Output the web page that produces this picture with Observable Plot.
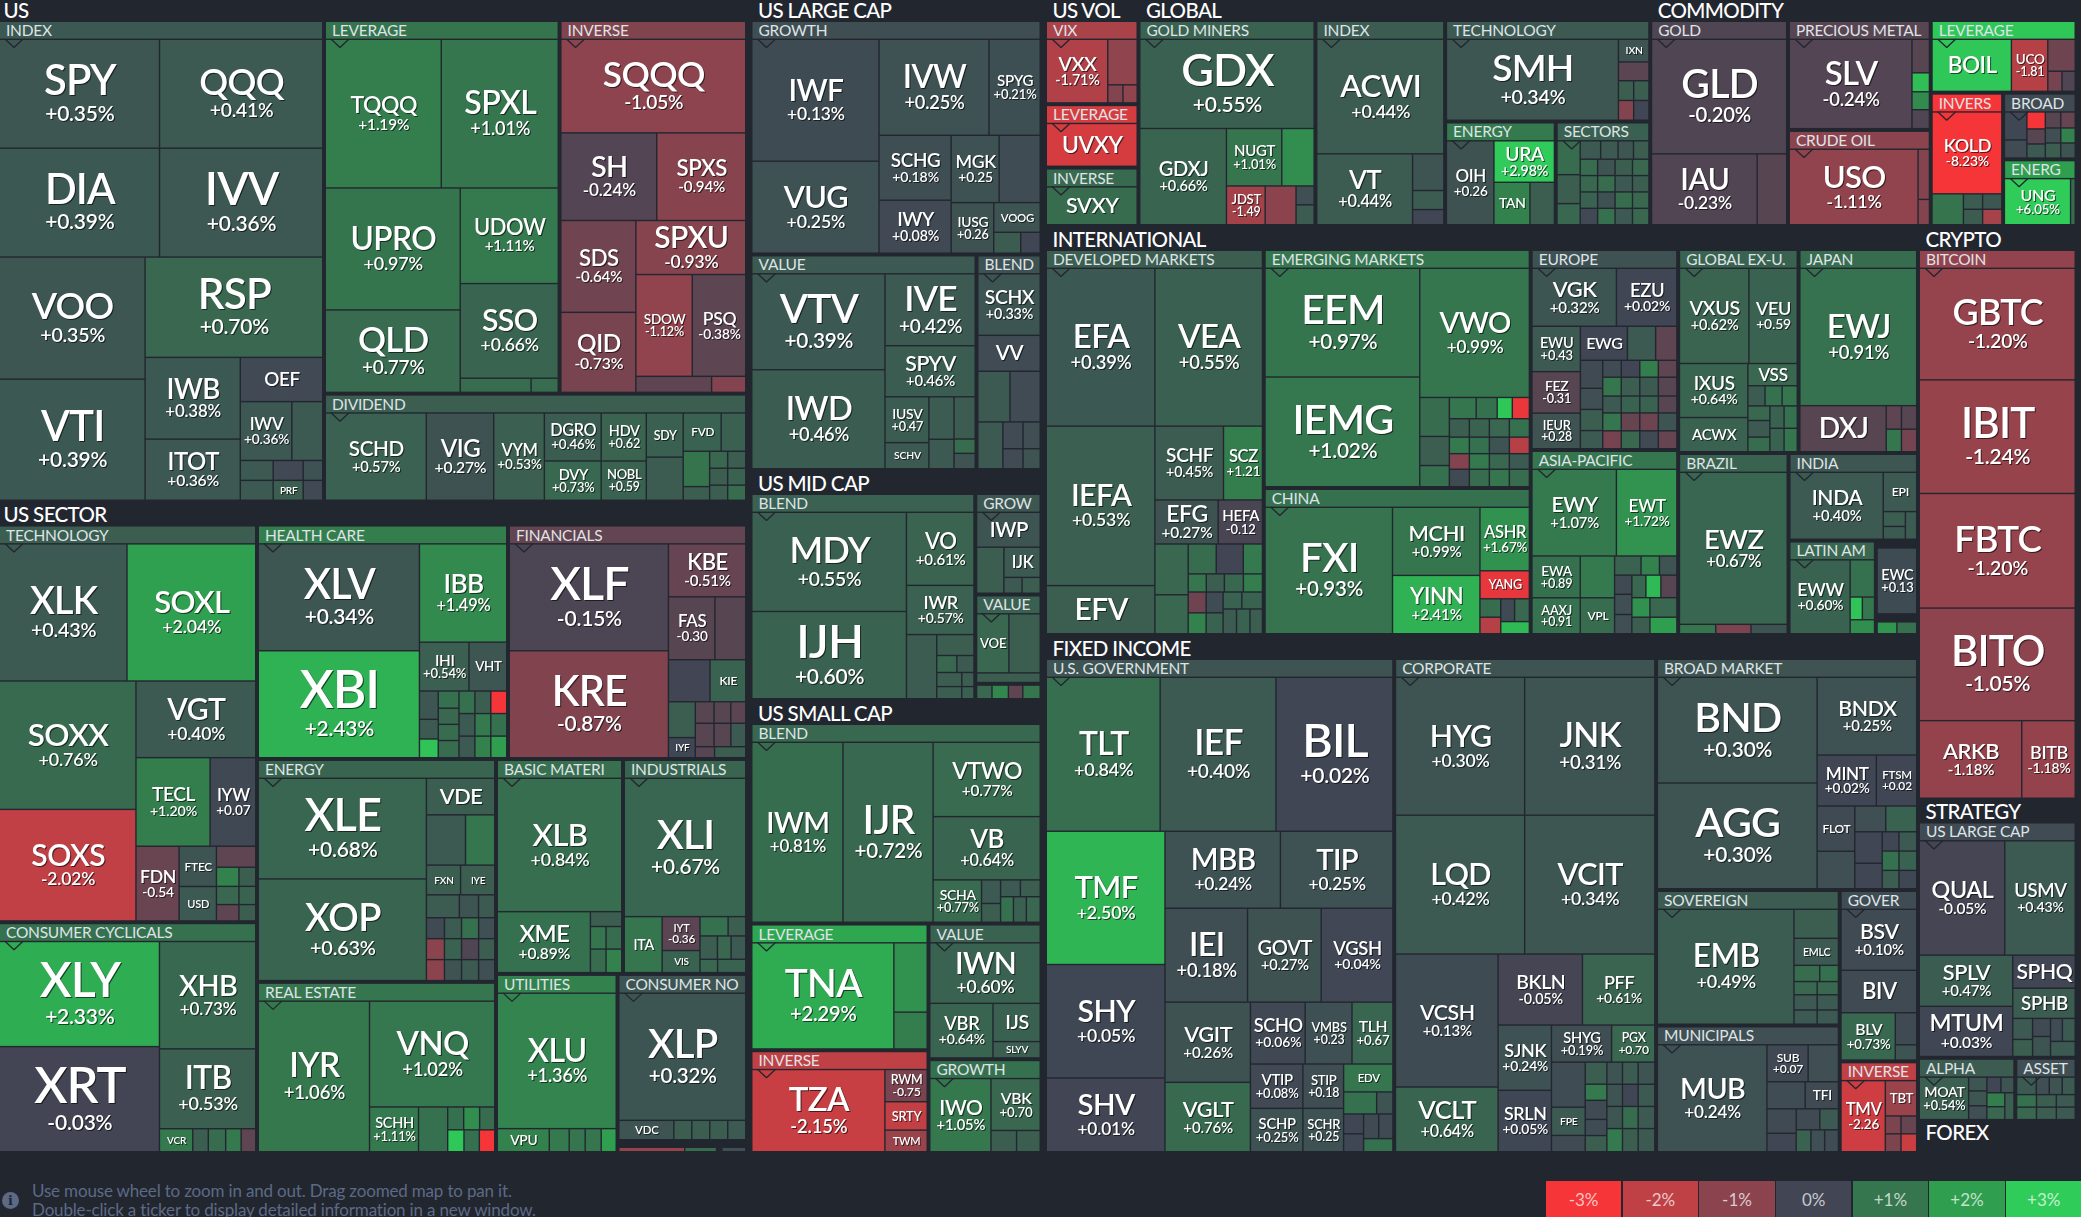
<!DOCTYPE html>
<html><head><meta charset="utf-8">
<script src="https://cdn.jsdelivr.net/npm/d3@7"></script>
<script src="https://cdn.jsdelivr.net/npm/@observablehq/plot@0.6"></script>
<style>
html,body{margin:0;padding:0;background:#22262f;overflow:hidden;width:2081px;height:1217px}
svg{display:block}
.tick text,.pct text{filter:drop-shadow(1px 1.5px 0 rgba(0,0,0,.6))}
.tick text{letter-spacing:-.02em;font-weight:600}
.pct text{letter-spacing:-.01em;font-weight:600}
.sub text{letter-spacing:-.015em}
.top text{letter-spacing:-.03em;font-weight:500}
#foot{position:relative;height:66px;width:2081px;overflow:hidden;font-family:Lato,sans-serif}
#msg{position:absolute;left:32px;top:30px;font-size:17px;line-height:19px;color:#5d6a86;letter-spacing:-.01em;white-space:nowrap}
#ico{position:absolute;left:2px;top:41px;width:17px;height:17px;border-radius:50%;background:#5d6a86;color:#22262f;font:bold 13px/17px "DejaVu Serif",serif;text-align:center}
#leg{position:absolute;left:1546px;top:30px;display:flex;gap:1.5px}
#leg div{width:75.2px;height:36px;color:rgba(255,255,255,.72);font-size:17px;line-height:38px;text-align:center}
</style></head><body>
<div id="map"></div>
<div id="foot"><div id="ico">i</div><div id="msg">Use mouse wheel to zoom in and out. Drag zoomed map to pan it.<br>Double-click a ticker to display detailed information in a new window.</div><div id="leg"></div></div>
<script>
// Node forms: [share,'TICKER','+0.35%'] labelled leaf, [share,'TICKER',0.1] ticker only, [share,'',0.4] unlabelled,
// [share,'h'|'v',[...]] split among siblings
const legendValues=[-3,-2,-1,0,1,2,3];
const legendLabels=['-3%','-2%','-1%','0%','+1%','+2%','+3%'];
const legendColors=['#f63538','#bf4045','#8b444e','#414554','#35764e','#2f9e4f','#30cc5a'];

const usIndex=[
 [108,'h',[[160,'SPY','+0.35%'],[163,'QQQ','+0.41%']]],
 [108,'h',[[160,'DIA','+0.39%'],[163,'IVV','+0.36%']]],
 [243,'h',[
  [145,'v',[[122,'VOO','+0.35%'],[121,'VTI','+0.39%']]],
  [177,'v',[[100,'RSP','+0.70%'],[143,'h',[
   [95,'v',[[82,'IWB','+0.38%'],[61,'ITOT','+0.36%']]],
   [82,'v',[[44,'OEF',.08],[59,'h',[[51,'IWV','+0.36%'],[30,'',.4]]],
    [19,'h',[[33,'',.4],[30,'',.08],[19,'',.25]]],[19,'h',[[33,'',.4],[30,'PRF',.5],[19,'',.08]]]]]
  ]]]]
 ]]];
const usLeverage=[
 [148,'h',[[115,'TQQQ','+1.19%'],[116,'SPXL','+1.01%']]],
 [204,'h',[
  [134,'v',[[122,'UPRO','+0.97%'],[82,'QLD','+0.77%']]],
  [97,'v',[[96,'UDOW','+1.11%'],[95,'SSO','+0.66%'],[13,'h',[[70,'',.8],[26,'',.8]]]]]]]];
const usInverse=[
 [93,'h',[[183,'SQQQ','-1.05%']]],
 [87,'h',[[95,'SH','-0.24%'],[88,'SPXS','-0.94%']]],
 [172,'h',[
  [74,'v',[[92,'SDS','-0.64%'],[80,'QID','-0.73%']]],
  [109,'v',[[54,'SPXU','-0.93%'],[103,'h',[[56,'SDOW','-1.12%'],[53,'PSQ','-0.38%']]],[15,'h',[[75,'',-.4],[33,'',-.9]]]]]]]];
const usDividend=[
 [101,'SCHD','+0.57%'],[67,'VIG','+0.27%'],[50,'VYM','+0.53%'],
 [102,'v',[[48,'h',[[57,'DGRO','+0.46%'],[45,'HDV','+0.62']]],[39,'h',[[57,'DVY','+0.73%'],[45,'NOBL','+0.59']]]]],
 [36,'v',[[44,'SDY',.55],[43,'',.45]]],
 [62,'v',[[38,'h',[[38,'FVD',.6],[24,'',.55]]],[49,'h',[
  [26,'v',[[36,'',.95],[13,'',.5]]],
  [36,'v',[[17,'h',[[18,'',.7],[18,'',.5]]],[17,'h',[[18,'',.5],[18,'',.6]]],[15,'h',[[18,'',.5],[18,'',.8]]]]]]]]]];

const secTech=[
 [136,'h',[[127,'XLK','+0.43%'],[128,'SOXL','+2.04%']]],
 [239,'h',[
  [136,'v',[[128,'SOXX','+0.76%'],[111,'SOXS','-2.02%']]],
  [119,'v',[[76,'VGT','+0.40%'],[88,'h',[[74,'TECL','+1.20%'],[45,'IYW','+0.07']]],
   [74,'h',[[43,'FDN','-0.54'],[37,'v',[[40,'FTEC',.3],[34,'USD',.4]]],
    [39,'v',[[21,'',-.4],[19,'h',[[22,'',1.3],[16,'',.5]]],[18,'h',[[22,'',.7],[16,'',.6]]],[16,'h',[[22,'',-.4],[16,'',.5]]]]]]]]]]]];
const secCyc=[
 [159,'v',[[105,'XLY','+2.33%'],[105,'XRT','-0.03%']]],
 [95,'v',[[108,'XHB','+0.73%'],[80,'ITB','+0.53%'],[22,'h',[[34,'VCR',1.1],[15,'',.5],[17,'',.8],[15,'',1.1],[14,'',-.4]]]]]];
const secHealth=[
 [160,'v',[[106,'XLV','+0.34%'],[106,'XBI','+2.43%']]],
 [86,'v',[[98,'IBB','+1.49%'],[48,'h',[[49,'IHI','+0.54%'],[37,'VHT',.35]]],
  [66,'h',[
   [18,'v',[[28,'',.35],[19,'',.4],[18,'',2.8]]],
   [20,'v',[[16,'',.9],[15,'',.7],[15,'',.8],[16,'',.8]]],
   [15,'v',[[22,'',.9],[22,'',.4],[21,'',.4]]],
   [15,'v',[[22,'',.5],[22,'',1.1],[21,'',1.3]]],
   [15,'v',[[22,'',-3],[22,'',.9],[21,'',2]]]]]]]];
const secFin=[
 [158,'v',[[106,'XLF','-0.15%'],[106,'KRE','-0.87%']]],
 [76,'v',[[52,'KBE','-0.51%'],[62,'h',[[46,'FAS','-0.30'],[30,'',-.3]]],[41,'h',[[41,'',0],[35,'KIE',.6]]],
  [55,'h',[[26,'v',[[35,'',.5],[19,'IYF',.05]]],
   [50,'v',[[21,'h',[[18,'',-.3],[16,'',-.3],[14,'',-.35]]],[23,'h',[[18,'',-.3],[16,'',-.3],[14,'',.4]]],[10,'h',[[18,'',-.3],[30,'',.5]]]]]]]]]];
const secEnergy=[
 [167,'v',[[100,'XLE','+0.68%'],[101,'XOP','+0.63%']]],
 [67,'v',[[36,'VDE',.5],[50,'h',[[38,'',.4],[28,'',1.0]]],[29,'h',[[33,'FXN',.5],[33,'IYE',.5]]],
  [22,'h',[[32,'',.45],[18,'',.3],[15,'',.4]]],
  [20,'h',[[17,'',.1],[16,'',.45],[16,'',.9],[15,'',.2]]],
  [20,'h',[[17,'',-1],[16,'',.6],[16,'',-.2],[15,'',.5]]],
  [20,'h',[[17,'',-1],[16,'',.3],[16,'',.4],[15,'',.2]]]]]];
const secRealEstate=[
 [110,'IYR','+1.06%'],
 [124,'v',[[106,'VNQ','+1.02%'],[44,'h',[[48,'SCHH','+1.11%'],[28,'',.9],
  [46,'v',[[22,'h',[[16,'',.9],[16,'',1.6],[15,'',.8]]],[21,'h',[[16,'',2.9],[15,'',.9],[15,'',-3]]]]]]]]]];
const secBasic=[
 [133,'XLB','+0.84%'],
 [60,'h',[[92,'XME','+0.89%'],[30,'v',[[14,'',.5],[22,'h',[[15,'',1.0],[15,'',.8]]],[23,'h',[[15,'',.8],[15,'',1.3]]]]]]]];
const secIndustrials=[
 [138,'XLI','+0.67%'],
 [55,'h',[[37,'ITA',1.0],[37,'v',[[33,'IYT','-0.36'],[21,'VIS',.6]]],
  [45,'v',[[18,'h',[[28,'',.9],[17,'',.5]]],[22,'h',[[17,'',.5],[13,'',.7],[14,'',.4]]],[12,'h',[[17,'',.7],[28,'',.6]]]]]]]];
const secUtilities=[
 [136,'XLU','+1.36%'],
 [22,'h',[[52,'VPU',1.3],[19,'',1.1],[15,'',1.0],[15,'',1.0],[14,'',2.0]]]];
const secStaples=[
 [126,'XLP','+0.32%'],
 [18,'h',[[55,'VDC',.3],[17,'',.5],[17,'',.5],[17,'',.5],[17,'',.4]]]];
const secStaplesExtra=[[66,'',-1.2],[31,'',.8],[4,'',null],[23,'',.2]];

const lcGrowth=[
 [126,'v',[[121,'IWF','+0.13%'],[91,'VUG','+0.25%']]],
 [160,'v',[[95,'h',[[109,'IVW','+0.25%'],[50,'SPYG','+0.21%']]],
  [117,'h',[[71,'v',[[64,'SCHG','+0.18%'],[52,'IWY','+0.08%']]],
   [88,'v',[[67,'h',[[47,'MGK','+0.25'],[40,'',.15]]],[50,'h',[[42,'IUSG','+0.26'],[46,'v',[[29,'VOOG',.3],[20,'h',[[27,'',.45],[19,'',.02]]]]]]]]]]]]]];
const lcValue=[
 [132,'v',[[95,'VTV','+0.39%'],[98,'IWD','+0.46%']]],
 [89,'v',[[71,'IVE','+0.42%'],[50,'SPYV','+0.46%'],[71,'h',[
  [43,'v',[[45,'IUSV','+0.47'],[25,'SCHV',.4]]],
  [24,'v',[[41,'',.45],[28,'',.4]]],
  [20,'v',[[41,'',.45],[13,'',.8],[14,'',.3]]]]]]]];
const lcBlend=[
 [61,'SCHX','+0.33%'],[35,'VV',.12],
 [50,'h',[[31,'',.4],[29,'',.12]]],
 [46,'h',[[24,'',.4],[19,'v',[[26,'',.12],[19,'',.12]]],[16,'v',[[26,'',.2],[19,'',.3]]]]]];

const mcBlend=[
 [153,'v',[[98,'MDY','+0.55%'],[86,'IJH','+0.60%']]],
 [66,'v',[[72,'VO','+0.61%'],[48,'IWR','+0.57%'],[63,'h',[[29,'',.45],
  [36,'v',[[20,'',.5],[16,'h',[[19,'',.7],[16,'',.4]]],[13,'h',[[24,'',.5],[11,'',.5]]],[11,'h',[[24,'',.5],[11,'',.55]]]]]]]]]];
const mcGrow=[
 [33,'IWP',.3],
 [44,'h',[[26,'',.5],[35,'v',[[28,'IJK',.4],[14,'h',[[17,'',.4],[17,'',.5]]]]]]]];
const mcValue=[
 [56,'h',[[31,'VOE',.7],[30,'',.5]]],
 [8,'',.5]];
const mcExtra=[[14,'',.7],[15,'',1.4],[13,'',-.4],[16,'',1.0]];

const scBlend=[
 [90,'IWM','+0.81%'],[89,'IJR','+0.72%'],
 [106,'v',[[73,'VTWO','+0.77%'],[62,'VB','+0.64%'],[41,'h',[[48,'SCHA','+0.77%'],
  [18,'v',[[23,'',.4],[18,'',.5]]],
  [39,'v',[[16,'h',[[19,'',.4],[19,'',.5]]],[25,'h',[[12,'',.9],[12,'',.55],[13,'',.7]]]]]]]]]];
const scLeverage=[[141,'TNA','+2.29%'],[32,'v',[[69,'',1.7],[36,'',1.2]]]];
const scInverse=[[132,'TZA','-2.15%'],[41,'v',[[32,'RWM','-0.75'],[28,'SRTY',-2.05],[21,'TWM',-1.3]]]];
const scValue=[[60,'IWN','+0.60%'],[54,'h',[[62,'VBR','+0.64%'],[46,'v',[[37,'IJS',.55],[15,'SLYV',.5]]]]]];
const scGrowth=[[60,'IWO','+1.05%'],[48,'v',[[51,'VBK','+0.70'],[20,'h',[[25,'',.5],[23,'',.5]]]]]];

const volVix=[[60,'VXX','-1.71%'],[28,'v',[[45,'',-1.1],[17,'h',[[14,'',-.9],[13,'',-1.1]]]]]];
const volLeverage=[[89,'UVXY',-2.4]];
const volInverse=[[89,'SVXY',.8]];

const glMiners=[
 [88,'GDX','+0.55%'],
 [95,'h',[[85,'GDXJ','+0.66%'],[86,'v',[[57,'h',[[54,'NUGT','+1.01%'],[31,'',1.6]]],
  [38,'h',[[38,'JDST','-1.49'],[30,'',-1],[17,'v',[[18,'',.2],[19,'',.45]]]]]]]]]];
const glIndex=[
 [114,'ACWI','+0.44%'],
 [70,'h',[[95,'VT','+0.44%'],[30,'v',[[36,'',.3],[18,'',.45],[14,'',.03]]]]]];
const glTech=[[170,'SMH','+0.34%'],[29,'v',[[22,'IXN',.3],[18,'',-.35],[19,'h',[[14,'',.5],[14,'',.5]]],[19,'h',[[14,'',-.9],[14,'',.02]]]]]];
const glEnergy=[[46,'OIH','+0.26'],[59,'v',[[41,'URA','+2.98%'],[42,'h',[[36,'TAN',1.3],[24,'',.5]]]]]];
const glSectors=[
 [22,'v',[[33,'',.8],[28,'',.5],[20,'',.7]]],
 [68,'v',[
  [17,'h',[[19,'',.4],[16,'',.4],[14,'',.35],[14,'',.5]]],
  [15,'h',[[16,'',.8],[16,'',.3],[16,'',.5],[15,'',.7]]],
  [15,'h',[[16,'',.7],[16,'',.8],[16,'',.4],[15,'',.5]]],
  [15,'h',[[16,'',.6],[16,'',.25],[16,'',.8],[15,'',.7]]],
  [15,'h',[[16,'',.08],[16,'',.9],[16,'',.4],[15,'',.7]]]]]];

const cmGold=[[114,'GLD','-0.20%'],[70,'h',[[104,'IAU','-0.23%'],[28,'',-.3]]]];
const cmPrecious=[[121,'SLV','-0.24%'],[16,'v',[[33,'',-.3],[18,'',2.7],[17,'',1.5],[18,'',-.2]]]];
const cmCrude=[[128,'USO','-1.11%'],[10,'v',[[49,'',-.9],[24,'',-.9]]]];
const cmLeverage=[[78,'BOIL',2.9],[35,'UCO','-1.81'],[26,'v',[[31,'',-.6],[19,'h',[[13,'',-.7],[12,'',-.2]]]]]];
const cmInverse=[[82,'KOLD','-8.23%'],[30,'h',[[30,'',.95],[37,'v',[[14,'h',[[18,'',.45],[18,'',.35]]],[14,'h',[[18,'',.45],[18,'',-1.5]]]]]]]];
const cmBroad=[
 [21,'v',[[27,'',.05],[17,'',.12]]],
 [17,'v',[[16,'',-3],[14,'',-.3],[13,'',.4]]],
 [14,'v',[[15,'',-.3],[14,'',.2],[14,'',.5]]],
 [13,'v',[[15,'',-.5],[14,'',1.3],[14,'',.3]]]];
const cmEnerg=[[60,'UNG','+6.05%'],[3,'',.8]];

const inDeveloped=[
 [157,'h',[[107,'EFA','+0.39%'],[106,'VEA','+0.55%']]],
 [207,'h',[
  [107,'v',[[159,'IEFA','+0.53%'],[47,'EFV',.5]]],
  [106,'v',[[73,'h',[[68,'SCHF','+0.45%'],[38,'SCZ','+1.21']]],
   [43,'h',[[62,'EFG','+0.27%'],[43,'HEFA','-0.12']]],
   [89,'h',[[32,'v',[[50,'',.7],[38,'',.7]]],
    [73,'v',[[29,'h',[[27,'',.8],[26,'',.0],[18,'',1.1]]],
     [17,'h',[[17,'',1.0],[17,'',.5],[18,'',.7],[18,'',1.2]]],
     [41,'h',[[17,'v',[[20,'',-.6],[20,'',1.3]]],[16,'v',[[20,'',.15],[20,'',.6]]],
      [39,'v',[[16,'h',[[18,'',.6],[20,'',.6]]],[24,'h',[[13,'',.45],[13,'',.6],[12,'',.5]]]]]]]]]]]]]]]];
const inEmerging=[
 [153,'v',[[108,'EEM','+0.97%'],[109,'IEMG','+1.02%']]],
 [108,'v',[[128,'VWO','+0.99%'],[88,'h',[
  [28,'v',[[38,'',.8],[28,'',.5],[20,'',.9]]],
  [78,'v',[
   [21,'h',[[26,'',1.0],[20,'',.9],[14,'',2.9],[16,'',-2.8]]],
   [18,'h',[[19,'',.5],[19,'',.6],[19,'',.7],[19,'',.9]]],
   [16,'h',[[19,'',1.1],[19,'',.9],[19,'',.3],[19,'',-1.8]]],
   [15,'h',[[19,'',-.9],[19,'',1.1],[19,'',.7],[19,'',.4]]],
   [17,'h',[[19,'',.1],[19,'',.8],[19,'',1.0],[19,'',.8]]]]]]]]]];
const inChina=[
 [126,'FXI','+0.93%'],
 [86,'v',[[68,'MCHI','+0.99%'],[58,'YINN','+2.41%']]],
 [48,'v',[[63,'ASHR','+1.67%'],[27,'YANG',-2.7],[34,'h',[
  [20,'v',[[18,'',.8],[16,'',-1.8]]],
  [28,'v',[[22,'h',[[13,'',.1],[14,'',.7]]],[11,'',2.6]]]]]]]];
const inEurope=[
 [57,'h',[[83,'VGK','+0.32%'],[59,'EZU','+0.02%']]],
 [122,'h',[
  [47,'v',[[45,'EWU','+0.43'],[41,'FEZ','-0.31'],[35,'IEUR','+0.28']]],
  [95,'v',[[33,'h',[[46,'EWG',.02],[27,'',.4],[20,'',-.4]]],[88,'h',[
   [21,'v',[[27,'',.1],[20,'',.2],[20,'',.5],[17,'',.4]]],
   [73,'v',[
    [16,'h',[[18,'',.15],[18,'',.0],[18,'',1.2],[18,'',-.4]]],
    [18,'h',[[18,'',1.0],[18,'',.5],[18,'',.4],[18,'',-.3]]],
    [16,'h',[[18,'',.4],[18,'',.6],[18,'',.6],[18,'',-.3]]],
    [17,'h',[[18,'',1.0],[18,'',-.5],[18,'',-.6],[18,'',.3]]],
    [17,'h',[[18,'',-.7],[18,'',.7],[18,'',.1],[18,'',-.5]]]]]]]]]]]];
const inAsia=[
 [86,'h',[[83,'EWY','+1.07%'],[59,'EWT','+1.72%']]],
 [77,'h',[
  [47,'v',[[41,'EWA','+0.89'],[35,'AAXJ','+0.91']]],
  [33,'v',[[41,'',1.1],[35,'VPL',.8]]],
  [61,'v',[[18,'h',[[25,'',.6],[17,'',1.3],[16,'',.3]]],
   [58,'h',[[16,'v',[[18,'',.1],[19,'',.2],[18,'',.2]]],
    [44,'v',[[21,'h',[[13,'',.7],[14,'',2.6],[15,'',-.3]]],[18,'h',[[17,'',1.7],[26,'',.7]]],[15,'h',[[17,'',.5],[26,'',2.0]]]]]]]]]]]];
const inGlobal=[
 [94,'h',[[68,'VXUS','+0.62%'],[47,'VEU','+0.59']]],
 [87,'h',[[67,'v',[[53,'IXUS','+0.64%'],[33,'ACWX',.6]]],
  [48,'v',[[21,'VSS',.7],[65,'v',[[19,'h',[[16,'',.45],[16,'',.9],[14,'',1.0]]],
   [45,'h',[[21,'v',[[13,'',.7],[15,'',.4],[13,'',.8]]],[13,'v',[[21,'',.6],[22,'',.6]]],[12,'v',[[21,'',.9],[22,'',1.0]]]]]]]]]]]];
const inJapan=[
 [137,'EWJ','+0.91%'],
 [45,'h',[[86,'DXJ',-.3],[14,'v',[[22,'',-.4],[21,'',1.0]]],[14,'v',[[22,'',-.3],[21,'',-.7]]]]]];
const inBrazil=[[151,'EWZ','+0.67%'],[8,'h',[[35,'',1.0],[34,'',-.8],[35,'',.3]]]];
const inIndia=[
 [92,'INDA','+0.40%'],
 [32,'v',[[39,'EPI',.4],[27,'h',[[21,'v',[[13,'',.5],[11,'',.4]]],[10,'',.45]]]]]];
const inLatam=[[59,'EWW','+0.60%'],[23,'v',[[37,'',.9],[22,'h',[[10,'',2.8],[10,'',1.0]]],[13,'',1.6]]]];
const inEwc=[[5,'',null],[68,'EWC','+0.13'],[7,'',null],[11,'h',[[18,'',1.8],[18,'',.9]]]];

const fiGovTail=[
 [92,'v',[[44,'h',[[52,'VTIP','+0.08%'],[40,'STIP','+0.18']]],[43,'h',[[52,'SCHP','+0.25%'],[40,'SCHR','+0.25']]]]],
 [48,'v',[[27,'EDV',1.0],[21,'h',[[32,'',.9],[15,'',.3]]],
  [37,'h',[[18,'v',[[19,'',.05],[17,'',.05]]],[27,'v',[[24,'h',[[14,'',.1],[13,'',.1]]],[12,'',.9]]]]]]]];
const fiGov=[
 [153,'h',[[112,'TLT','+0.84%'],[114,'IEF','+0.40%'],[115,'BIL','+0.02%']]],
 [320,'h',[
  [117,'v',[[133,'TMF','+2.50%'],[113,'SHY','+0.05%'],[73,'SHV','+0.01%']]],
  [226,'v',[
   [76,'h',[[114,'MBB','+0.24%'],[111,'TIP','+0.25%']]],
   [93,'h',[[82,'IEI','+0.18%'],[73,'GOVT','+0.27%'],[71,'VGSH','+0.04%']]],
   [149,'h',[
    [84,'v',[[80,'VGIT','+0.26%'],[69,'VGLT','+0.76%']]],
    [141,'v',[[61,'h',[[54,'SCHO','+0.06%'],[46,'VMBS','+0.23'],[40,'TLH','+0.67']]],[87,'h',fiGovTail]]]]]]]]]];
const fiCorpGrid=[
 [32,'v',[[44,'',.15],[27,'FPE',.4],[15,'',.1]]],
 [20,'v',[[21,'',.5],[15,'',1.1],[18,'',.1],[15,'',.15],[15,'',.5]]],
 [46,'v',[[21,'h',[[14,'',.3],[14,'',.45],[15,'',.3]]],[21,'h',[[14,'',.3],[14,'',.02],[15,'',.4]]],[21,'h',[[14,'',.35],[14,'',.8],[15,'',.4]]],[22,'h',[[14,'',1.1],[14,'',.5],[15,'',.4]]]]]];
const fiCorp=[
 [137,'h',[[128,'HYG','+0.30%'],[129,'JNK','+0.31%']]],
 [138,'h',[[128,'LQD','+0.42%'],[129,'VCIT','+0.34%']]],
 [197,'h',[
  [101,'v',[[133,'VCSH','+0.13%'],[64,'VCLT','+0.64%']]],
  [155,'v',[[70,'h',[[83,'BKLN','-0.05%'],[71,'PFF','+0.61%']]],
   [126,'h',[[52,'v',[[65,'SJNK','+0.24%'],[61,'SRLN','+0.05%']]],
    [102,'v',[[36,'h',[[59,'SHYG','+0.19%'],[42,'PGX','+0.70']]],[89,'h',fiCorpGrid]]]]]]]]]];
const fiBroad=[
 [158,'v',[[105,'BND','+0.30%'],[105,'AGG','+0.30%']]],
 [98,'v',[[77,'BNDX','+0.25%'],[50,'h',[[58,'MINT','+0.02%'],[39,'FTSM','+0.02']]],
  [82,'h',[[36,'v',[[45,'FLOT',.1],[37,'',.2]]],
   [60,'v',[[25,'h',[[30,'',.2],[30,'',.6]]],
    [57,'h',[[26,'v',[[30,'',.02],[24,'',.02]]],
     [33,'v',[[18,'h',[[16,'',.05],[17,'',.4]]],[18,'h',[[16,'',.9],[17,'',.6]]],[17,'h',[[16,'',.5],[17,'',.05]]]]]]]]]]]]]];
const fiSovereign=[
 [135,'EMB','+0.49%'],
 [43,'v',[[28,'',.5],[26,'EMLC',.4],[15,'h',[[24,'',.8],[17,'',.9]]],[12,'h',[[22,'',.7],[20,'',.7]]],[14,'h',[[22,'',.4],[20,'',.4]]],[13,'h',[[22,'',.4],[20,'',.4]]]]]];
const fiGover=[
 [61,'BSV','+0.10%'],[42,'BIV',.1],
 [47,'h',[[53,'BLV','+0.73%'],[20,'v',[[31,'',.1],[14,'',.3]]]]]];
const fiMuni=[
 [108,'MUB','+0.24%'],
 [70,'v',[[36,'h',[[40,'SUB','+0.07'],[29,'',.2]]],[26,'h',[[37,'',.15],[32,'TFI',.1]]],
  [42,'h',[[28,'v',[[23,'',.1],[17,'',.02]]],[41,'v',[[20,'h',[[22,'',.1],[17,'',.4]]],[21,'h',[[14,'',.6],[13,'',.2],[13,'',.15]]]]]]]]]];
const fiInverse=[
 [43,'TMV','-2.26'],
 [30,'v',[[35,'TBT',-1.3],[17,'h',[[15,'',-.8],[15,'',-.5]]],[17,'h',[[15,'',-.8],[15,'',-2.2]]]]]];

const cryptoBitcoin=[
 [110,'GBTC','-1.20%'],[112,'IBIT','-1.24%'],[113,'FBTC','-1.20%'],[111,'BITO','-1.05%'],
 [76,'h',[[101,'ARKB','-1.18%'],[52,'BITB','-1.18%']]]];
const stLarge=[
 [113,'h',[[84,'QUAL','-0.05%'],[69,'USMV','+0.43%']]],
 [100,'h',[[92,'v',[[50,'SPLV','+0.47%'],[49,'MTUM','+0.03%']]],
  [61,'v',[[32,'SPHQ',.02],[29,'SPHB',.45],[37,'h',[[19,'v',[[20,'',.4],[16,'',.5]]],[17,'v',[[17,'',.1],[19,'',.3]]],[24,'v',[[22,'h',[[11,'',.15],[12,'',.4]]],[14,'',.4]]]]]]]]]];
const stAlpha=[
 [48,'MOAT','+0.54%'],
 [44,'h',[[17,'v',[[12,'',.35],[13,'',.35],[12,'',.2]]],
  [26,'v',[[14,'h',[[13,'',.02],[12,'',.3]]],[25,'h',[[17,'v',[[12,'',1.2],[11,'',.7]]],[8,'',.5]]]]]]]];
const stAsset=[
 [16,'h',[[19,'',.4],[12,'',.2],[12,'',.3],[12,'',.4]]],
 [11,'h',[[19,'',.9],[19,'',.5],[18,'',.4]]],
 [11,'h',[[19,'',.7],[19,'',.5],[18,'',.4]]]];

// Assembly: '@' sub-group with header, '^' top group with title
const usTop=[500,'^','US','H',[
 [322,'@','INDEX',.38,'v',usIndex],
 [419,'V',[
  [370,'H',[[231,'@','LEVERAGE',.95,'v',usLeverage],[183,'@','INVERSE',-.85,'v',usInverse]]],
  [104,'@','DIVIDEND',.5,'h',usDividend]]]]];
const secRightTop=[231,'H',[[247,'@','HEALTH CARE',1.2,'h',secHealth],[235,'@','FINANCIALS',-.45,'h',secFin]]];
const secThird=[
 [212,'H',[[123,'@','BASIC MATERI',.85,'v',secBasic],[120,'@','INDUSTRIALS',.65,'v',secIndustrials]]],
 [176,'H',[[118,'@','UTILITIES',1.3,'v',secUtilities],
  [126,'V',[[163,'@','CONSUMER NO',.3,'v',secStaples],[1,'',null],[3,'h',secStaplesExtra]]]]]];
const secRightBottom=[391,'H',[
 [235,'V',[[220,'@','ENERGY',.65,'h',secEnergy],[168,'@','REAL ESTATE',1.0,'h',secRealEstate]]],
 [247,'V',secThird]]];
const secTop=[647,'^','US SECTOR','H',[
 [255,'V',[[394,'@','TECHNOLOGY',.5,'v',secTech],[227,'@','CONSUMER CYCLICALS',.9,'h',secCyc]]],
 [486,'V',[secRightTop,secRightBottom]]]];
const col1=[745,'C',[usTop,secTop]];
const lcTop=[468,'^','US LARGE CAP','V',[
 [231,'@','GROWTH',.18,'h',lcGrowth],
 [212,'H',[[222,'@','VALUE',.42,'h',lcValue],[61,'@','BLEND',.25,'v',lcBlend]]]]];
const mcTop=[225,'^','US MID CAP','H',[
 [220,'@','BLEND',.57,'h',mcBlend],
 [62,'V',[[96,'@','GROW',.35,'v',mcGrow],[84,'@','VALUE',.55,'v',mcValue],[12,'h',mcExtra]]]]];
const scTop=[448,'^','US SMALL CAP','V',[
 [197,'@','BLEND',.72,'h',scBlend],
 [226,'H',[
  [174,'V',[[123,'@','LEVERAGE',2.2,'h',scLeverage],[99,'@','INVERSE',-2,'h',scInverse]]],
  [109,'V',[[132,'@','VALUE',.6,'v',scValue],[90,'@','GROWTH',.9,'h',scGrowth]]]]]]];
const col2=[287,'C',[lcTop,mcTop,scTop]];
const volTop=[89,'^','US VOL','V',[[81,'@','VIX',-1.6,'h',volVix],[60,'@','LEVERAGE',-2.4,'h',volLeverage],[55,'@','INVERSE',.75,'h',volInverse]]];
const globalTop=[505,'^','GLOBAL','H',[
 [172,'@','GOLD MINERS',.6,'v',glMiners],
 [125,'@','INDEX',.44,'v',glIndex],
 [200,'V',[[98,'@','TECHNOLOGY',.4,'h',glTech],[101,'H',[[106,'@','ENERGY',1.1,'h',glEnergy],[90,'@','SECTORS',.55,'h',glSectors]]]]]]];
const commodityTop=[420,'^','COMMODITY','H',[
 [133,'@','GOLD',-.2,'v',cmGold],
 [138,'V',[[107,'@','PRECIOUS METAL',-.3,'h',cmPrecious],[93,'@','CRUDE OIL',-1,'h',cmCrude]]],
 [141,'V',[[69,'@','LEVERAGE',2.9,'h',cmLeverage],
  [130,'H',[[68,'@','INVERS',-3,'v',cmInverse],
   [69,'V',[[63,'@','BROAD',.1,'h',cmBroad],[63,'@','ENERG',2,'h',cmEnerg]]]]]]]]];
const intlTop=[404,'^','INTERNATIONAL','H',[
 [214,'@','DEVELOPED MARKETS',.5,'v',inDeveloped],
 [262,'V',[[235,'@','EMERGING MARKETS',1.0,'h',inEmerging],[143,'@','CHINA',.9,'h',inChina]]],
 [143,'V',[[197,'@','EUROPE',.25,'v',inEurope],[181,'@','ASIA-PACIFIC',1.0,'v',inAsia]]],
 [235,'V',[
  [200,'H',[[116,'@','GLOBAL EX-U.',.6,'v',inGlobal],[115,'@','JAPAN',.8,'v',inJapan]]],
  [178,'H',[[106,'@','BRAZIL',.6,'v',inBrazil],
   [125,'V',[[84,'@','INDIA',.35,'h',inIndia],[91,'H',[[83,'@','LATIN AM',.7,'h',inLatam],[38,'v',inEwc]]]]]]]]]]];
const fixedTop=[513,'^','FIXED INCOME','H',[
 [344,'@','U.S. GOVERNMENT',.3,'v',fiGov],
 [257,'@','CORPORATE',.3,'v',fiCorp],
 [257,'V',[
  [228,'@','BROAD MARKET',.28,'h',fiBroad],
  [259,'H',[
   [179,'V',[[132,'@','SOVEREIGN',.45,'h',fiSovereign],[124,'@','MUNICIPALS',.2,'h',fiMuni]]],
   [74,'V',[[168,'@','GOVER',.15,'v',fiGover],[88,'@','INVERSE',-2,'h',fiInverse]]]]]]]]];
const rightCol=[154,'V',[
 [566,'^','CRYPTO','v',[[544,'@','BITCOIN',-1.15,'v',cryptoBitcoin]]],
 [316,'^','STRATEGY','V',[
  [232,'@','US LARGE CAP',.12,'v',stLarge],
  [59,'H',[[93,'@','ALPHA',.45,'h',stAlpha],[57,'@','ASSET',.2,'v',stAsset]]]]],
 [28,'^','FOREX','v',[]]]];
const col3=[1027.5,'C',[
 [224,'H',[volTop,globalTop,commodityTop]],
 [922,'H',[[866,'C',[intlTop,fixedTop]],rightCol]]]];
const tree=[2074.5,'R',[col1,col2,col3]];

// Label styling: ticker font sizes that do not follow the general fit, and scale factors on that fit
const fontOverride={TQQQ:23,UDOW:22,QQQ:36,VOO:37,SPXU:30,IVV:46};
const fontScale={SPXL:.77,UPRO:.78,QLD:1.05,SQQQ:.85,SPXS:.8,SDS:.85,SDOW:.8,PSQ:.76,SCHD:.7,VYM:.85,XLK:.9,SOXL:.74,SOXX:.75,TECL:.75,SOXS:.77,
 XLY:1.18,XRT:1.23,XHB:.9,ITB:1.15,XBI:1.24,IBB:.9,XLF:1.13,KBE:1.1,XLE:1.1,XOP:.92,VDE:1.4,XLB:.76,XLU:.8,IYR:.82,VNQ:.9,
 IWF:.76,VUG:.9,SPYG:.88,SCHG:.88,VTV:1.15,IWD:.9,IVE:1.4,VV:1.4,MDY:.92,IJH:1.28,IWP:1.4,IJK:1.6,IWM:.77,VTWO:.82,IWN:1.17,IJS:1.5,RWM:1.1,SRTY:1.2,TWM:1.2,
 UVXY:1.18,SVXY:1.18,GDX:1.14,GDXJ:.7,NUGT:.85,JDST:1.1,ACWI:.82,IXN:1.3,OIH:.86,URA:1.24,TAN:1.15,IAU:1.1,BOIL:1.12,KOLD:.76,UNG:.93,
 EFA:.8,VEA:.8,IEFA:.78,EFV:1.33,SCHF:.86,EFG:1.4,HEFA:1.1,VWO:.77,MCHI:.9,YANG:1.1,EWG:1.3,EWY:.78,EWT:.76,VPL:1.1,VXUS:.82,VEU:.85,VSS:1.7,EWJ:.83,DXJ:1.43,EWZ:.68,INDA:.85,EPI:1.1,EWW:.85,
 TLT:.76,IEF:.84,BIL:1.1,TMF:.78,SHY:.83,IEI:1.18,GOVT:.78,VGSH:.74,VGIT:.84,VGLT:.9,VMBS:.93,HYG:.72,JNK:.8,LQD:.72,VCIT:.72,VCSH:.58,BKLN:.8,PFF:.8,
 BNDX:.77,EMB:.8,BIV:1.25,MUB:.84,TFI:1.5,FPE:1.1,TBT:1.3,GBTC:.86,FBTC:.87,ARKB:.78,QUAL:.77,USMV:.85,MTUM:1.1,SPHQ:1.5,SPHB:1.4,VPU:1.3,VDC:1.15,VCR:1.1};

function toNode(n){
  const w=n[0],k=n[1];
  if(k==='^') return {w,kind:'top',name:n[2],dir:n[3].toLowerCase(),gap:4,children:n[4].map(toNode)};
  if(k==='@') return {w,kind:'grp',name:n[2],v:n[3],dir:n[4],gap:1.4,children:n[5].map(toNode)};
  if(Array.isArray(n[2])){
    const dir=k==='R'?'h':k==='C'?'v':k.toLowerCase();
    const gap=k==='R'?7.5:k==='C'?5:(k==='H'||k==='V')?4:1.4;
    return {w,kind:'split',dir,gap,children:n[2].map(toNode)};
  }
  const p=n[2];
  return {w,kind:'leaf',t:k,label:typeof p==='string'?p:null,v:typeof p==='string'?parseFloat(p):p};
}
const tile=(node,x0,y0,x1,y1)=>{
  const kids=node.children,g=node.data.gap,sum=d3.sum(kids,d=>d.data.w),n=kids.length;
  if(node.data.dir==='h'){
    const unit=((x1-x0)-n*g)/sum;let x=x0;
    for(const c of kids){const s=c.data.w*unit+g;c.x0=x;c.x1=x+s;c.y0=y0;c.y1=y1;x+=s;}
  }else{
    const unit=((y1-y0)-n*g)/sum;let y=y0;
    for(const c of kids){const s=c.data.w*unit+g;c.y0=y;c.y1=y+s;c.x0=x0;c.x1=x1;y+=s;}
  }
};
const TOP_H=22,SUB_H=18;
const root=d3.hierarchy(toNode(tree)).sum(d=>d.children&&d.children.length?0:d.w);
d3.treemap().size([2074.5,1151]).tile(tile)
  .paddingInner(d=>d.data.gap||0)
  .paddingTop(d=>d.data.kind==='top'?TOP_H:d.data.kind==='grp'?SUB_H:0)(root);
const nodes=root.descendants();
const leaves=nodes.filter(d=>d.data.kind==='leaf'&&d.data.v!=null);
const groups=nodes.filter(d=>d.data.kind==='grp');
const tops=nodes.filter(d=>d.data.kind==='top');

const labelled=leaves.filter(d=>d.data.t).map(d=>{
  const w=d.x1-d.x0,h=d.y1-d.y0,t=d.data.t,len=t.length+(/[WM]/.test(t)?.5:0);
  let tf=fontOverride[t]||Math.min(.32*Math.sqrt(w*h),.92*(w-5)/(len*.6),h*.6)*(fontScale[t]||1);
  tf=Math.max(tf,10);
  const pf=Math.min(21,8.5+.3*tf),cx=(d.x0+d.x1)/2,cy=(d.y0+d.y1)/2,lab=d.data.label;
  const H=.72*tf+(lab?.22*tf+.72*pf:0),top=cy-H/2;
  return {t,lab,tf,pf,cx,ty:top+.36*tf,py:top+.94*tf+.36*pf};
});
const notch=groups.flatMap(d=>{
  const x=d.x0,y=d.y0+SUB_H-1;
  return [{g:d,x:x+5,y},{g:d,x:x+13.5,y:y+8},{g:d,x:x+22,y}];
});
const DARK='#22262f';
const chart=Plot.plot({
  width:2081,height:1151,margin:0,
  x:{domain:[0,2081],range:[0,2081],axis:null},
  y:{domain:[0,1151],range:[0,1151],axis:null},
  color:{type:'linear',domain:legendValues,range:legendColors,clamp:true},
  style:{background:DARK,fontFamily:'Lato'},
  marks:[
    Plot.rect(leaves,{x1:'x0',x2:'x1',y1:'y0',y2:'y1',fill:d=>d.data.v}),
    Plot.rect(groups,{x1:'x0',x2:'x1',y1:'y0',y2:d=>d.y0+SUB_H-1.4,fill:d=>d.data.v}),
    Plot.line(notch,{x:'x',y:'y',z:'g',stroke:DARK,strokeWidth:1.3,strokeLinejoin:'miter'}),
    Plot.text(groups,{x:d=>d.x0+5.5,y:d=>d.y0+8.5,text:d=>d.data.name,textAnchor:'start',lineAnchor:'middle',fontSize:15.5,fill:'#dfe3e6',fontFamily:'Lato',className:'sub'}),
    Plot.text(tops,{x:d=>d.x0+(d.x0<1?3:5),y:d=>d.y0+10.5,text:d=>d.data.name,textAnchor:'start',lineAnchor:'middle',fontSize:20.5,fill:'#fff',fontFamily:'Lato',className:'top'}),
    Plot.text(labelled,{x:'cx',y:'ty',text:'t',fontSize:'tf',lineAnchor:'middle',textAnchor:'middle',fill:'#fff',fontFamily:'Lato',className:'tick'}),
    Plot.text(labelled.filter(d=>d.lab),{x:'cx',y:'py',text:'lab',fontSize:'pf',lineAnchor:'middle',textAnchor:'middle',fill:'#fff',fontFamily:'Lato',className:'pct'})
  ]
});
document.getElementById('map').appendChild(chart);
const leg=document.getElementById('leg');
legendLabels.forEach((l,i)=>{const e=document.createElement('div');e.textContent=l;e.style.background=legendColors[i];leg.appendChild(e);});
</script>
</body></html>
